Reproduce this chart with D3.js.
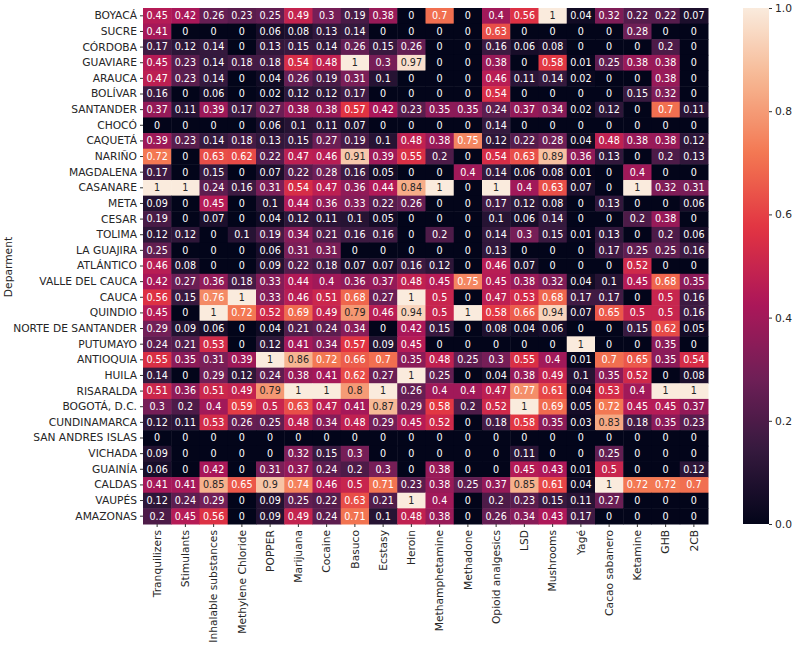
<!DOCTYPE html>
<html>
<head>
<meta charset="utf-8">
<script src="https://cdn.jsdelivr.net/npm/d3@7"></script>
<style>
  html, body { margin: 0; padding: 0; background: #ffffff; }
  svg { display: block; font-family: "DejaVu Sans", sans-serif; }
</style>
</head>
<body>
<svg id="chart" width="800" height="647"></svg>
<script>
const departments = ["BOYACÁ","SUCRE","CÓRDOBA","GUAVIARE","ARAUCA","BOLÍVAR","SANTANDER","CHOCÓ","CAQUETÁ","NARIÑO","MAGDALENA","CASANARE","META","CESAR","TOLIMA","LA GUAJIRA","ATLÁNTICO","VALLE DEL CAUCA","CAUCA","QUINDIO","NORTE DE SANTANDER","PUTUMAYO","ANTIOQUIA","HUILA","RISARALDA","BOGOTÁ, D.C.","CUNDINAMARCA","SAN ANDRES ISLAS","VICHADA","GUAINÍA","CALDAS","VAUPÉS","AMAZONAS"];

const substances = ["Tranquilizers","Stimulants","Inhalable substances","Methylene Chloride","POPPER","Marijuana","Cocaine","Basuco","Ecstasy","Heroin","Methamphetamine","Methadone","Opioid analgesics","LSD","Mushrooms","Yagé","Cacao sabanero","Ketamine","GHB","2CB"];

// one row per department, one value per substance
const values = [
  [0.45,0.42,0.26,0.23,0.25,0.49,0.3,0.19,0.38,0,   0.7,0,0.4,0.56,1,0.04,0.32,0.22,0.22,0.07],
  [0.41,0,0,0,0.06,0.08,0.13,0.14,0,0,             0,0,0.63,0,0,0,0,0.28,0,0],
  [0.17,0.12,0.14,0,0.13,0.15,0.14,0.26,0.15,0.26, 0,0,0.16,0.06,0.08,0,0,0,0.2,0],
  [0.45,0.23,0.14,0.18,0.18,0.54,0.48,1,0.3,0.97,  0,0,0.38,0,0.58,0.01,0.25,0.38,0.38,0],
  [0.47,0.23,0.14,0,0.04,0.26,0.19,0.31,0.1,0,     0,0,0.46,0.11,0.14,0.02,0,0,0.38,0],
  [0.16,0,0.06,0,0.02,0.12,0.12,0.17,0,0,          0,0,0.54,0,0,0,0,0.15,0.32,0],
  [0.37,0.11,0.39,0.17,0.27,0.38,0.38,0.57,0.42,0.23, 0.35,0.35,0.24,0.37,0.34,0.02,0.12,0,0.7,0.11],
  [0,0,0,0,0.06,0.1,0.11,0.07,0,0,                 0,0,0.14,0,0,0,0,0,0,0],
  [0.39,0.23,0.14,0.18,0.13,0.15,0.27,0.19,0.1,0.48, 0.38,0.75,0.12,0.22,0.28,0.04,0.48,0.38,0.38,0.12],
  [0.72,0,0.63,0.62,0.22,0.47,0.46,0.91,0.39,0.55, 0.2,0,0.54,0.63,0.89,0.36,0.13,0,0.2,0.13],
  [0.17,0,0.15,0,0.07,0.22,0.28,0.16,0.05,0,       0,0.4,0.14,0.06,0.08,0.01,0,0.4,0,0],
  [1,1,0.24,0.16,0.31,0.54,0.47,0.36,0.44,0.84,    1,0,1,0.4,0.63,0.07,0,1,0.32,0.31],
  [0.09,0,0.45,0,0.1,0.44,0.36,0.33,0.22,0.26,     0,0,0.17,0.12,0.08,0,0.13,0,0,0.06],
  [0.19,0,0.07,0,0.04,0.12,0.11,0.1,0.05,0,        0,0,0.1,0.06,0.14,0,0,0.2,0.38,0],
  [0.12,0.12,0,0.1,0.19,0.34,0.21,0.16,0.16,0,     0.2,0,0.14,0.3,0.15,0.01,0.13,0,0.2,0.06],
  [0.25,0,0,0,0.06,0.31,0.31,0,0,0,                0,0,0.13,0,0,0,0.17,0.25,0.25,0.16],
  [0.46,0.08,0,0,0.09,0.22,0.18,0.07,0.07,0.16,    0.12,0,0.46,0.07,0,0,0,0.52,0,0],
  [0.42,0.27,0.36,0.18,0.33,0.44,0.4,0.36,0.37,0.48, 0.45,0.75,0.45,0.38,0.32,0.04,0.1,0.45,0.68,0.35],
  [0.56,0.15,0.76,1,0.33,0.46,0.51,0.68,0.27,1,    0.5,0,0.47,0.53,0.68,0.17,0.17,0,0.5,0.16],
  [0.45,0,1,0.72,0.52,0.69,0.49,0.79,0.46,0.94,    0.5,1,0.58,0.66,0.94,0.07,0.65,0.5,0.5,0.16],
  [0.29,0.09,0.06,0,0.04,0.21,0.24,0.34,0,0.42,    0.15,0,0.08,0.04,0.06,0,0,0.15,0.62,0.05],
  [0.24,0.21,0.53,0,0.12,0.41,0.34,0.57,0.09,0.45, 0,0,0,0,0,1,0,0,0.35,0],
  [0.55,0.35,0.31,0.39,1,0.86,0.72,0.66,0.7,0.35,  0.48,0.25,0.3,0.55,0.4,0.01,0.7,0.65,0.35,0.54],
  [0.14,0,0.29,0.12,0.24,0.38,0.41,0.62,0.27,1,    0.25,0,0.04,0.38,0.49,0.1,0.35,0.52,0,0.08],
  [0.51,0.36,0.51,0.49,0.79,1,1,0.8,1,0.26,        0.4,0.4,0.47,0.77,0.61,0.04,0.53,0.4,1,1],
  [0.3,0.2,0.4,0.59,0.5,0.63,0.47,0.41,0.87,0.29,  0.58,0.2,0.52,1,0.69,0.05,0.72,0.45,0.45,0.37],
  [0.12,0.11,0.53,0.26,0.25,0.48,0.34,0.48,0.29,0.45, 0.52,0,0.18,0.58,0.35,0.03,0.83,0.18,0.35,0.23],
  [0,0,0,0,0,0,0,0,0,0,                            0,0,0,0,0,0,0,0,0,0],
  [0.09,0,0,0,0,0.32,0.15,0.3,0,0,                 0,0,0,0.11,0,0,0.25,0,0,0],
  [0.06,0,0.42,0,0.31,0.37,0.24,0.2,0.3,0,         0.38,0,0,0.45,0.43,0.01,0.5,0,0,0.12],
  [0.41,0.41,0.85,0.65,0.9,0.74,0.46,0.5,0.71,0.23, 0.38,0.25,0.37,0.85,0.61,0.04,1,0.72,0.72,0.7],
  [0.12,0.24,0.29,0,0.09,0.25,0.22,0.63,0.21,1,    0.4,0,0.2,0.23,0.15,0.11,0.27,0,0,0],
  [0.2,0.45,0.56,0,0.09,0.49,0.24,0.71,0.1,0.48,   0.38,0,0.26,0.34,0.43,0.17,0,0,0,0]
];

const colorbarTicks = [0, 0.2, 0.4, 0.6, 0.8, 1.0];

// seaborn "rocket" colormap approximation
const rocketStops = ["#03051a","#35193e","#701f57","#ad1759","#e13342","#f37651","#f6b48f","#faebdd"];

(function draw() {
  const rocket = d3.scaleLinear()
    .domain(d3.range(rocketStops.length).map(i => i / (rocketStops.length - 1)))
    .range(rocketStops)
    .interpolate(d3.interpolateRgb);
  const color = t => rocket(Math.max(0, Math.min(1, t)));

  const svg = d3.select("#chart");
  const mLeft = 143, mRight = 708, mTop = 8, mBottom = 524;

  const x = d3.scaleBand().domain(substances).range([mLeft, mRight]).padding(0);
  const y = d3.scaleBand().domain(departments).range([mTop, mBottom]).padding(0);

  const cells = [];
  departments.forEach((d, i) => substances.forEach((s, j) => cells.push({d, s, v: values[i][j]})));

  function luminance(c) {
    const rgb = d3.rgb(c);
    const lin = [rgb.r, rgb.g, rgb.b].map(u => {
      u = u / 255;
      return u <= 0.03928 ? u / 12.92 : Math.pow((u + 0.055) / 1.055, 2.4);
    });
    return 0.2126 * lin[0] + 0.7152 * lin[1] + 0.0722 * lin[2];
  }

  svg.append("g").selectAll("rect").data(cells).join("rect")
    .attr("x", c => x(c.s))
    .attr("y", c => y(c.d))
    .attr("width", x.bandwidth() + 0.5)
    .attr("height", y.bandwidth() + 0.5)
    .attr("fill", c => color(c.v));

  svg.append("g").selectAll("text").data(cells).join("text")
    .attr("x", c => x(c.s) + x.bandwidth() / 2)
    .attr("y", c => y(c.d) + y.bandwidth() / 2)
    .attr("dy", "0.35em")
    .attr("text-anchor", "middle")
    .attr("font-size", 9.6)
    .attr("fill", c => luminance(color(c.v)) > 0.408 ? "#262626" : "#ffffff")
    .text(c => String(c.v));

  // Y axis
  const yAxis = svg.append("g").attr("transform", `translate(${mLeft},0)`)
    .call(d3.axisLeft(y).tickSize(3).tickPadding(3));
  yAxis.select(".domain").remove();
  yAxis.selectAll(".tick line").attr("stroke", "#333");
  yAxis.selectAll(".tick text").attr("font-size", 10.7).attr("fill", "#262626").attr("font-family", "DejaVu Sans, sans-serif");

  // X axis
  const xAxis = svg.append("g").attr("transform", `translate(0,${mBottom})`)
    .call(d3.axisBottom(x).tickSize(3).tickPadding(3));
  xAxis.select(".domain").remove();
  xAxis.selectAll(".tick line").attr("stroke", "#333");
  xAxis.selectAll(".tick text")
    .attr("font-size", 10.7).attr("fill", "#262626").attr("font-family", "DejaVu Sans, sans-serif")
    .attr("transform", "rotate(-90)")
    .attr("text-anchor", "end")
    .attr("x", -6).attr("y", 0).attr("dy", "0.35em");

  // Y axis title
  svg.append("text")
    .attr("transform", `translate(12,267) rotate(-90)`)
    .attr("text-anchor", "middle")
    .attr("font-size", 10.7)
    .attr("fill", "#262626")
    .text("Deparment");

  // Colorbar
  const cbX = 743, cbW = 26;
  const cbScale = d3.scaleLinear().domain([0, 1]).range([mBottom, mTop]);
  const defs = svg.append("defs");
  const grad = defs.append("linearGradient").attr("id", "cbgrad")
    .attr("x1", 0).attr("y1", 1).attr("x2", 0).attr("y2", 0);
  grad.selectAll("stop").data(d3.range(0, 1.0001, 0.02)).join("stop")
    .attr("offset", t => t)
    .attr("stop-color", t => color(t));
  svg.append("rect")
    .attr("x", cbX).attr("y", mTop)
    .attr("width", cbW).attr("height", mBottom - mTop)
    .attr("fill", "url(#cbgrad)");
  const cbAxis = svg.append("g").attr("transform", `translate(${cbX + cbW},0)`)
    .call(d3.axisRight(cbScale).tickValues(colorbarTicks).tickFormat(d3.format(".1f")).tickSize(3).tickPadding(3));
  cbAxis.select(".domain").remove();
  cbAxis.selectAll(".tick line").attr("stroke", "#333");
  cbAxis.selectAll(".tick text").attr("font-size", 10.7).attr("fill", "#262626").attr("font-family", "DejaVu Sans, sans-serif");
})();
</script>
</body>
</html>
